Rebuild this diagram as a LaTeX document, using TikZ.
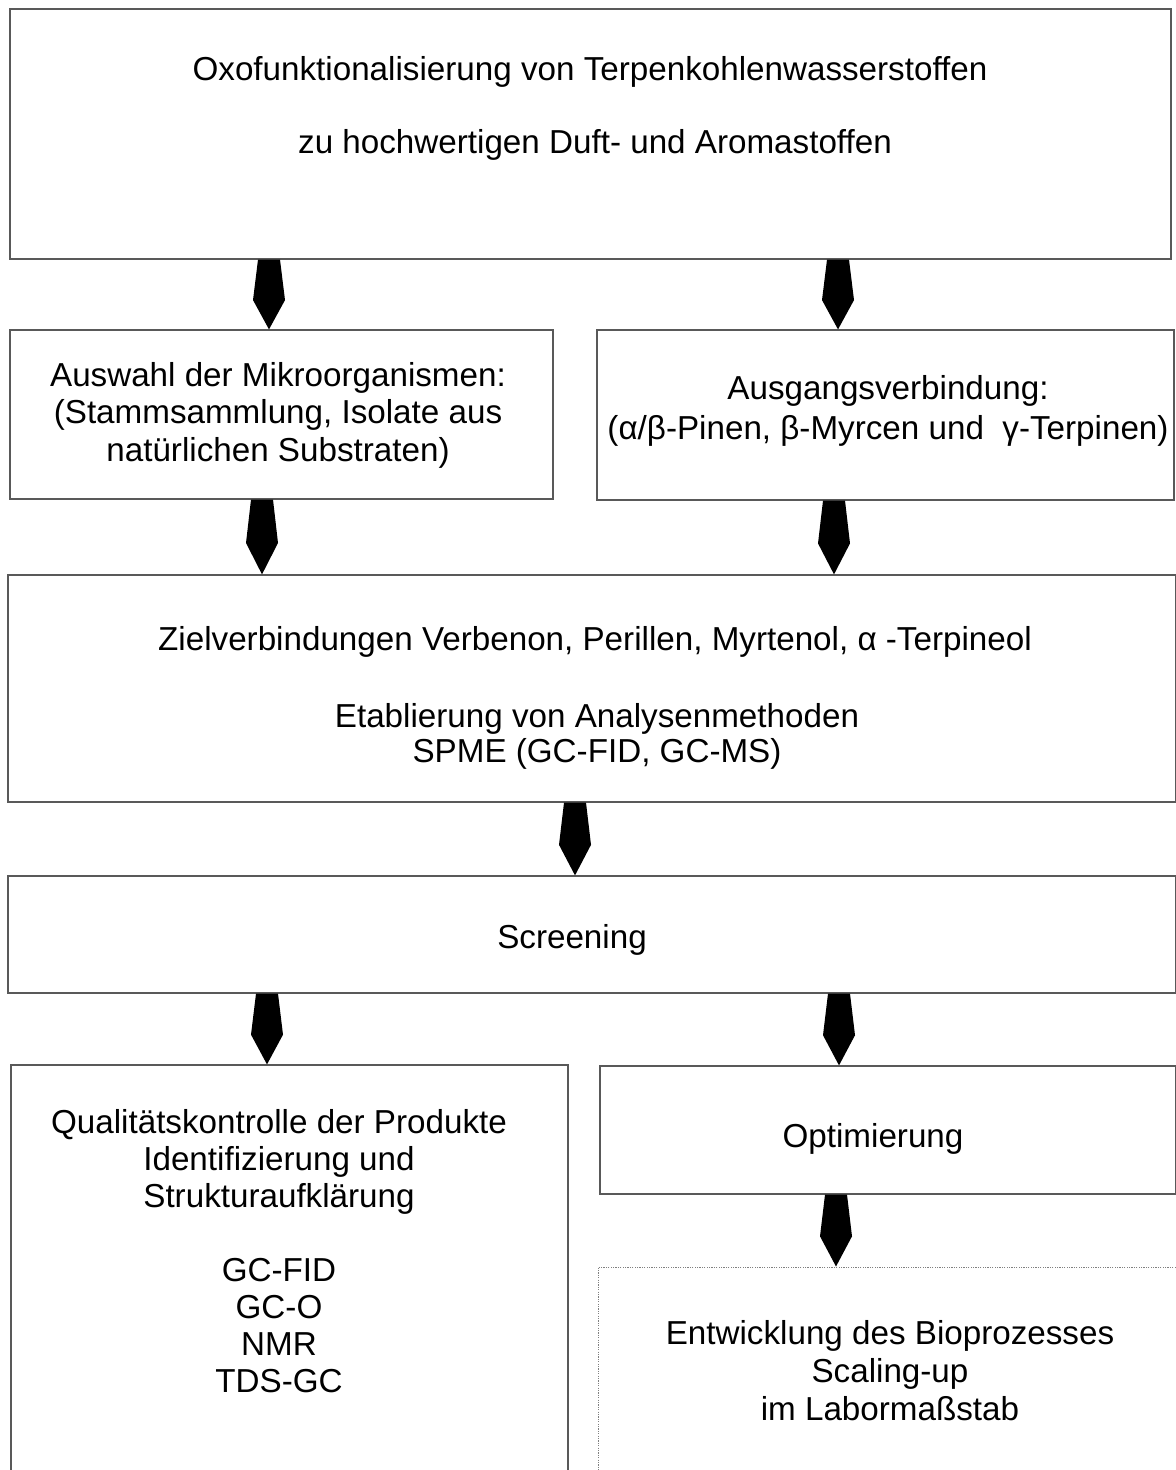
\documentclass[tikz,border=0pt]{standalone}
\usepackage{fontspec}
\setmainfont{Liberation Sans}
\usetikzlibrary{calc,fit}
\tikzset{
  x=0.5pt,y=-0.5pt,
  boxline/.style={draw=black!65,line width=0.6pt},
  dotbox/.style={draw=black!50,line width=0.5pt,dash pattern=on 0.6pt off 0.6pt},
  lbl/.style={inner sep=0pt,font=\fontsize{16.6pt}{19pt}\selectfont,text height=12.5pt,text depth=2pt,anchor=center},
}
\newcommand\mkbox[6]{%
  \coordinate (#1-nw) at (#2,#3);
  \coordinate (#1-se) at (#4,#5);
  \node[#6,fit=(#1-nw)(#1-se),inner sep=0pt] (#1) {};
}
\newcommand\barrow[3]{%
  \fill[black] let \p1=(#1 |- #2.south), \p2=(#1 |- #3.north),
    \p3=($(\p1)!0.58!(\p2)$) in
    (\x1-5.5pt,\y1) -- (\x1+5.5pt,\y1) -- (\x1+8pt,\y3) -- (\x2,\y2)
    -- (\x1-8pt,\y3) -- cycle;
}
\begin{document}
\begin{tikzpicture}
\useasboundingbox (0,0) rectangle (1176,1470);
\clip (0,0) rectangle (1176,1470);
\fill[white] (0,0) rectangle (1176,1470);

\mkbox{b1}{10}{9}{1171}{259}{boxline}
\mkbox{b2}{10}{330}{553}{499}{boxline}
\mkbox{b3}{597}{330}{1174}{500}{boxline}
\mkbox{b4}{8}{575}{1176}{802}{boxline}
\mkbox{b5}{8}{876}{1176}{993}{boxline}
\mkbox{b6}{11}{1065}{568}{1480}{boxline}
\mkbox{b7}{600}{1066}{1176}{1194}{boxline}
\mkbox{b8}{598}{1267}{1180}{1480}{dotbox}

\node[lbl] (t1a) at (590,70) {Oxofunktionalisierung von Terpenkohlenwasserstoffen};
\node[lbl] (t1b) at (595,143) {zu hochwertigen Duft- und Aromastoffen};

\node[lbl] (t2a) at (278,376) {Auswahl der Mikroorganismen:};
\node[lbl] (t2b) at (278,413) {(Stammsammlung, Isolate aus};
\node[lbl] (t2c) at (278,451) {natürlichen Substraten)};

\node[lbl] (t3a) at (888,389) {Ausgangsverbindung:};
\node[lbl] (t3b) at (888,429) {(α/β-Pinen, β-Myrcen und \ γ-Terpinen)};

\node[lbl] (t4a) at (595,640) {Zielverbindungen Verbenon, Perillen, Myrtenol, α -Terpineol};
\node[lbl] (t4b) at (597,717) {Etablierung von Analysenmethoden};
\node[lbl] (t4c) at (597,752) {SPME (GC-FID, GC-MS)};

\node[lbl] (t5) at (572,938) {Screening};

\node[lbl] (t6a) at (279,1123) {Qualitätskontrolle der Produkte};
\node[lbl] (t6b) at (279,1160) {Identifizierung und};
\node[lbl] (t6c) at (279,1197) {Strukturaufklärung};
\node[lbl] (t6d) at (279,1271) {GC-FID};
\node[lbl] (t6e) at (279,1308) {GC-O};
\node[lbl] (t6f) at (279,1345) {NMR};
\node[lbl] (t6g) at (279,1382) {TDS-GC};

\node[lbl] (t7) at (873,1137) {Optimierung};

\node[lbl] (t8a) at (890,1334) {Entwicklung des Bioprozesses};
\node[lbl] (t8b) at (890,1372) {Scaling-up};
\node[lbl] (t8c) at (890,1410) {im Labormaßstab};

\coordinate (xa1) at (269,0);
\coordinate (xa2) at (838,0);
\coordinate (xa3) at (262,0);
\coordinate (xa4) at (834,0);
\coordinate (xa5) at (575,0);
\coordinate (xa6) at (267,0);
\coordinate (xa7) at (839,0);
\coordinate (xa8) at (836,0);

\barrow{xa1}{b1}{b2}
\barrow{xa2}{b1}{b3}
\barrow{xa3}{b2}{b4}
\barrow{xa4}{b3}{b4}
\barrow{xa5}{b4}{b5}
\barrow{xa6}{b5}{b6}
\barrow{xa7}{b5}{b7}
\barrow{xa8}{b7}{b8}
\end{tikzpicture}
\end{document}
